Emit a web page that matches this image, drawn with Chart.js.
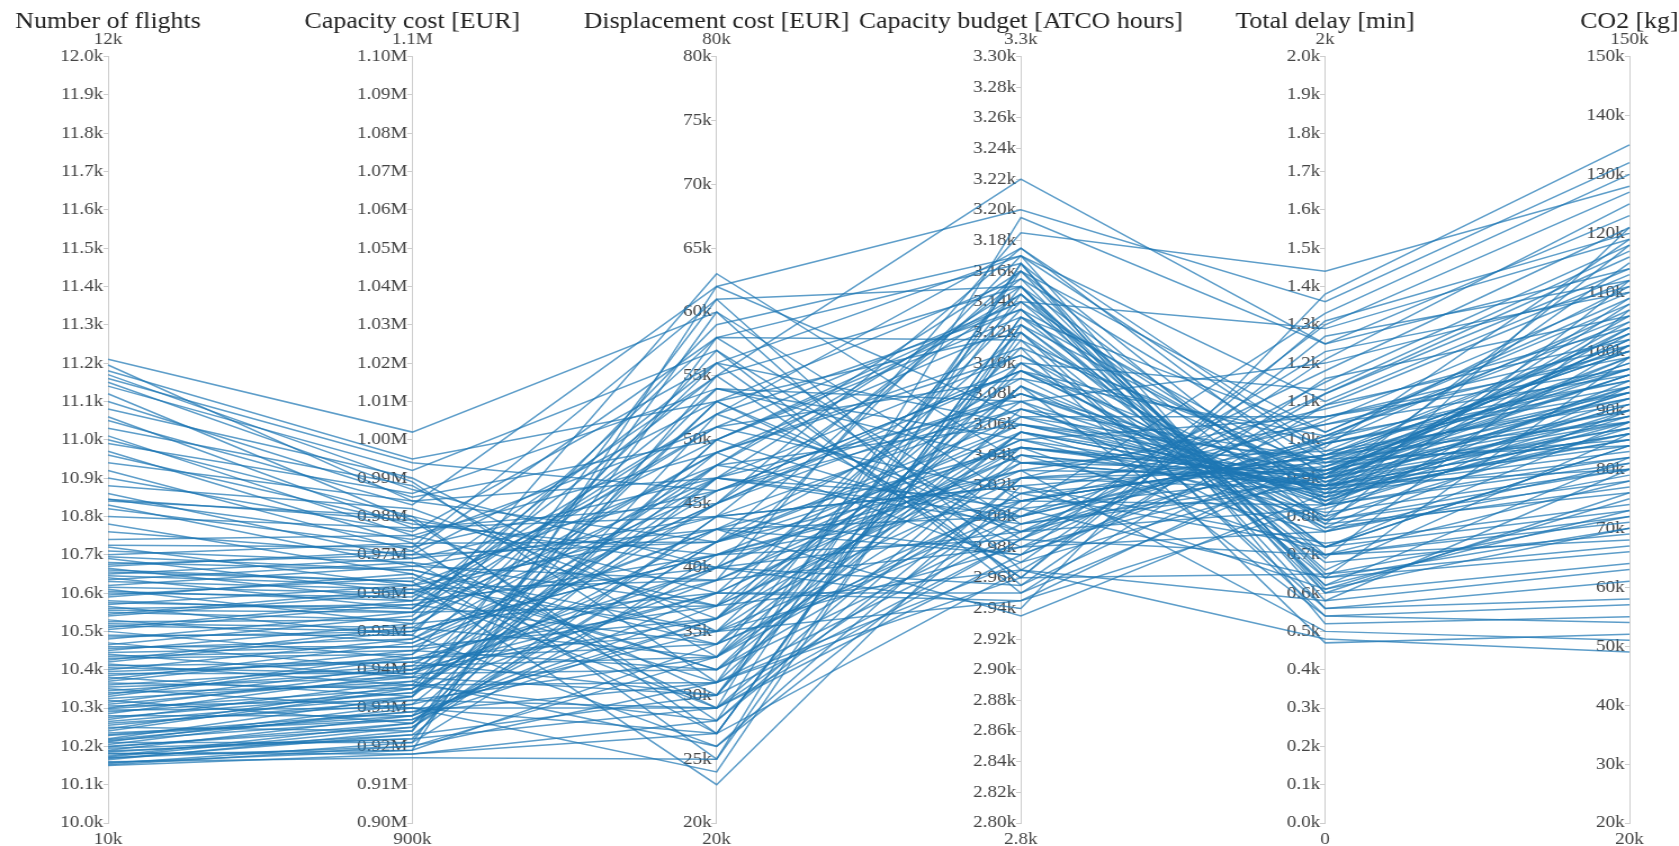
<!DOCTYPE html>
<html>
<head>
<meta charset="utf-8">
<script src="https://cdn.jsdelivr.net/npm/chart.js@4/dist/chart.umd.min.js"></script>
<style>
  html, body { margin: 0; padding: 0; background: #fff; overflow: hidden; }
  /* the reference figure is stretched sideways (~1.125x); draw narrower and widen */
  #wrap {
    width: 1492px; height: 846px; position: relative;
    transform: scaleX(1.1253); transform-origin: 0 0;
  }
</style>
</head>
<body>
<div id="wrap"><canvas id="chart"></canvas></div>
<script>
'use strict';
// ---------- Parallel coordinates: flights / cost / delay / CO2 ----------

const dimTitles  = ['Number of flights', 'Capacity cost [EUR]', 'Displacement cost [EUR]',
                    'Capacity budget [ATCO hours]', 'Total delay [min]', 'CO2 [kg]'];
const rangeTop    = ['12k', '1.1M', '80k', '3.3k', '2k', '150k'];
const rangeBottom = ['10k', '900k', '20k', '2.8k', '0', '20k'];

// axis ranges, in the same units as the value arrays below
const dimMin  = [10000,  900, 20, 2800,    0,  20];
const dimMax  = [12000, 1100, 80, 3300, 2000, 150];
const dimStep = [  100,   10,  5,   20,  100,  10];

// one entry per line (solution)
const flights = [
    10150, 10155, 10160, 10165, 10170, 10175, 10180, 10185, 10190, 10195,
    10200, 10205, 10210, 10215, 10220, 10230, 10240, 10250, 10260, 10270,
    10280, 10290, 10300, 10305, 10310, 10320, 10330, 10340, 10350, 10360,
    10370, 10380, 10390, 10400, 10410, 10415, 10420, 10430, 10440, 10450,
    10460, 10470, 10480, 10490, 10500, 10510, 10520, 10530, 10540, 10550,
    10560, 10565, 10570, 10580, 10590, 10600, 10610, 10620, 10630, 10640,
    10650, 10660, 10665, 10670, 10680, 10690, 10700, 10710, 10720, 10740,
    10760, 10780, 10800, 10820, 10830, 10840, 10845, 10860, 10880, 10900,
    10920, 10940, 10960, 10970, 10990, 11000, 11010, 11030, 11050, 11060,
    11080, 11100, 11120, 11140, 11150, 11160, 11170, 11180, 11195, 11210,
    10158, 10172, 10188, 10212, 10228, 10245, 10265, 10285, 10298, 10315,
    10335, 10355, 10375, 10395, 10425, 10445, 10465, 10485, 10505, 10525,
    10545, 10575, 10595, 10615, 10635, 10655, 10675, 10695, 10725, 10845,
    10152, 10168, 10182, 10198, 10218, 10235, 10255, 10275, 10295, 10325,
    10345, 10365, 10385, 10405, 10435, 10455, 10515, 10555, 10605, 10645,
];
const capacityCostK = [ // thousand EUR
    918, 921, 917, 924, 920, 926, 919, 923, 928, 922,
    925, 930, 921, 927, 933, 929, 935, 924, 931, 937,
    928, 934, 940, 932, 938, 926, 943, 936, 930, 941,
    945, 933, 939, 948, 942, 936, 950, 944, 938, 952,
    946, 940, 955, 949, 943, 958, 951, 947, 960, 953,
    957, 949, 962, 955, 965, 959, 952, 967, 961, 956,
    969, 963, 958, 971, 966, 960, 973, 968, 962, 975,
    970, 965, 977, 972, 967, 980, 974, 969, 982, 976,
    971, 984, 978, 973, 986, 980, 975, 988, 983, 977,
    990, 985, 979, 992, 987, 994, 989, 995, 984, 1002,
    919, 925, 922, 931, 928, 936, 933, 939, 935, 941,
    944, 938, 947, 942, 951, 946, 954, 950, 957, 953,
    961, 956, 964, 960, 968, 963, 970, 966, 972, 979,
    920, 923, 918, 926, 929, 927, 932, 934, 930, 937,
    940, 935, 943, 939, 945, 948, 950, 955, 958, 962,
];
const displacementK = [ // thousand EUR
    28, 41, 25, 55, 33, 47, 62, 30, 38, 52,
    44, 27, 58, 36, 49, 31, 43, 60, 35, 26,
    50, 39, 46, 29, 57, 42, 34, 53, 24, 48,
    37, 61, 32, 45, 40, 28, 54, 47, 30, 63,
    43, 36, 51, 26, 39, 56, 33, 45, 29, 49,
    41, 59, 35, 47, 27, 52, 38, 44, 31, 55,
    46, 23, 40, 58, 34, 50, 42, 29, 48, 37,
    53, 32, 45, 61, 39, 27, 51, 43, 36, 56,
    30, 47, 41, 25, 54, 38, 49, 33, 62, 44,
    35, 50, 28, 57, 40, 46, 31, 53, 42, 60,
    34, 42, 29, 48, 37, 31, 53, 40, 45, 33,
    56, 38, 43, 30, 49, 36, 58, 41, 34, 46,
    39, 52, 32, 44, 37, 55, 42, 35, 47, 40,
    31, 44, 27, 50, 36, 40, 33, 47, 29, 42,
    38, 54, 35, 45, 32, 48, 41, 37, 51, 43,
];
const capacityBudget = [ // ATCO hours
    3040, 2985, 3120, 2960, 3150, 3010, 3065, 3100, 2945, 3175,
    3020, 3130, 2995, 3085, 2970, 3160, 3045, 2955, 3110, 3005,
    3140, 2980, 3070, 3195, 2950, 3030, 3095, 2990, 3125, 3060,
    2965, 3150, 3015, 3080, 2940, 3165, 3050, 3000, 3115, 3035,
    2975, 3135, 3090, 3025, 3185, 2960, 3055, 3145, 2985, 3105,
    3010, 3170, 2945, 3075, 3130, 3000, 3040, 3155, 2970, 3220,
    3095, 3020, 2955, 3115, 3065, 2990, 3160, 3045, 3005, 3140,
    2980, 3085, 3175, 2965, 3050, 3125, 3015, 2935, 3100, 3060,
    3145, 2995, 3030, 3165, 3075, 2950, 3110, 3035, 3200, 2975,
    3055, 3135, 3025, 2985, 3170, 3080, 2960, 3120, 3045, 3010,
    3005, 3090, 2975, 3145, 3035, 2990, 3155, 3060, 3100, 3015,
    3170, 3045, 3080, 2985, 3125, 3025, 3165, 3055, 3000, 3095,
    3040, 3135, 2995, 3070, 3030, 3150, 3065, 3010, 3105, 3050,
    3070, 3020, 2965, 3130, 3045, 2990, 3085, 3150, 3010, 3060,
    3120, 3035, 2980, 3095, 3055, 3160, 3025, 3075, 3140, 3000,
];
const totalDelay = [ // minutes
    880, 1150, 640, 1270, 560, 830, 1060, 720, 960, 900,
    610, 1020, 880, 540, 1210, 790, 700, 990, 930, 1330,
    860, 760, 950, 1250, 1090, 500, 870, 1120, 680, 920,
    580, 840, 1040, 900, 1380, 520, 810, 1180, 890, 970,
    1300, 620, 1010, 870, 1440, 650, 900, 780, 1230, 850,
    960, 1100, 830, 700, 880, 1060, 760, 940, 910, 1250,
    990, 730, 1160, 560, 940, 820, 1020, 880, 640, 1290,
    920, 770, 970, 480, 1060, 890, 720, 860, 1130, 950,
    600, 900, 1040, 830, 1200, 930, 470, 880, 1360, 990,
    790, 910, 1080, 700, 960, 860, 1310, 540, 920, 1000,
    910, 780, 1010, 690, 880, 950, 640, 860, 800, 930,
    600, 900, 840, 1050, 720, 920, 580, 870, 980, 790,
    890, 660, 1000, 830, 910, 620, 850, 960, 770, 880,
    850, 940, 1120, 720, 900, 1010, 830, 650, 960, 880,
    760, 920, 1090, 800, 870, 610, 950, 840, 700, 990,
];
const co2K = [ // thousand kg
    86, 118, 66, 112, 58, 95, 99, 84, 88, 104,
    75, 108, 80, 54, 125, 78, 71, 93, 101, 130,
    82, 90, 97, 114, 102, 51, 85, 116, 69, 89,
    63, 92, 96, 87, 135, 55, 80, 121, 99, 91,
    127, 73, 105, 83, 128, 67, 94, 76, 110, 86,
    100, 113, 81, 72, 88, 97, 79, 90, 102, 123,
    94, 74, 106, 61, 85, 89, 109, 84, 70, 119,
    96, 77, 103, 49, 101, 87, 73, 91, 117, 93,
    64, 89, 100, 82, 111, 98, 52, 86, 132, 95,
    80, 88, 104, 68, 92, 85, 120, 57, 90, 97,
    102, 112, 95, 107, 118, 84, 99, 109, 121, 92,
    76, 115, 104, 110, 88, 97, 80, 106, 119, 101,
    93, 86, 111, 103, 96, 82, 108, 100, 94, 105,
    91, 98, 114, 84, 96, 106, 88, 72, 103, 93,
    81, 99, 112, 87, 94, 70, 101, 90, 78, 107,
];

const columns = [flights, capacityCostK, displacementK, capacityBudget, totalDelay, co2K];

// tick label formats per axis
const tickFormat = [
    v => (v / 1000).toFixed(1) + 'k',
    v => (v / 1000).toFixed(2) + 'M',
    v => v + 'k',
    v => (v / 1000).toFixed(2) + 'k',
    v => (v / 1000).toFixed(1) + 'k',
    v => v + 'k',
];

const SERIF = "'Liberation Serif', 'Times New Roman', serif";
const LINE_COLOR = 'rgba(31,119,180,0.72)';

// each line is drawn on a hidden 0..1 axis; the visible axes carry the real units
function norm(dim, v) {
    return (v - dimMin[dim]) / (dimMax[dim] - dimMin[dim]);
}

const datasets = flights.map((_, i) => ({
    data: columns.map((col, d) => norm(d, col[i])),
    borderColor: LINE_COLOR,
    borderWidth: 1.5,
    pointRadius: 0,
    tension: 0,
    fill: false,
    xAxisID: 'x',
    yAxisID: 'yn',
}));

// fixed band heights so the plot area lands where the reference has it
const fixHeight = h => scale => { scale.height = h; };

const scales = {
    x: {
        type: 'category',
        position: 'top',
        weight: 2,
        offset: false,
        afterFit: fixHeight(33),
        grid: { display: false, drawTicks: false },
        border: { display: false },
        ticks: {
            autoSkip: false, maxRotation: 0, padding: 0,
            color: '#222', font: { family: SERIF, size: 23, lineHeight: 1 },
        },
    },
    xTop: {
        type: 'category',
        labels: rangeTop,
        position: 'top',
        weight: 1,
        offset: false,
        afterFit: fixHeight(23.5),
        grid: { display: false, drawTicks: false },
        border: { display: false },
        ticks: {
            autoSkip: false, maxRotation: 0, padding: 8,
            color: '#444', font: { family: SERIF, size: 17, lineHeight: 1 },
        },
    },
    xBot: {
        type: 'category',
        labels: rangeBottom,
        position: 'bottom',
        offset: false,
        afterFit: fixHeight(23),
        grid: { display: false, drawTicks: false },
        border: { display: false },
        ticks: {
            autoSkip: false, maxRotation: 0, padding: 8,
            color: '#444', font: { family: SERIF, size: 17, lineHeight: 1 },
        },
    },
    yn: { type: 'linear', min: 0, max: 1, display: false },
};

dimTitles.forEach((_, d) => {
    scales['y' + d] = {
        type: 'linear',
        axis: 'y',
        position: { x: d },
        min: dimMin[d],
        max: dimMax[d],
        z: 1,
        grid: { drawOnChartArea: false, drawTicks: true, tickLength: 4, color: '#ccc' },
        border: { display: true, color: '#ccc', width: 1 },
        ticks: {
            stepSize: dimStep[d],
            autoSkip: false,
            padding: 2,
            color: '#444',
            font: { family: SERIF, size: 17 },
            textStrokeColor: '#fff',
            textStrokeWidth: 3,
            // trailing space keeps the label clear of the tick mark
            callback: v => tickFormat[d](v) + ' ',
        },
    };
});

new Chart(document.getElementById('chart'), {
    type: 'line',
    data: { labels: dimTitles, datasets },
    options: {
        responsive: true,
        maintainAspectRatio: false,
        animation: false,
        events: [],
        layout: { padding: { left: 96, right: 44, top: 0, bottom: 0 } },
        plugins: { legend: { display: false }, tooltip: { enabled: false } },
        scales,
    },
});
</script>
</body>
</html>
